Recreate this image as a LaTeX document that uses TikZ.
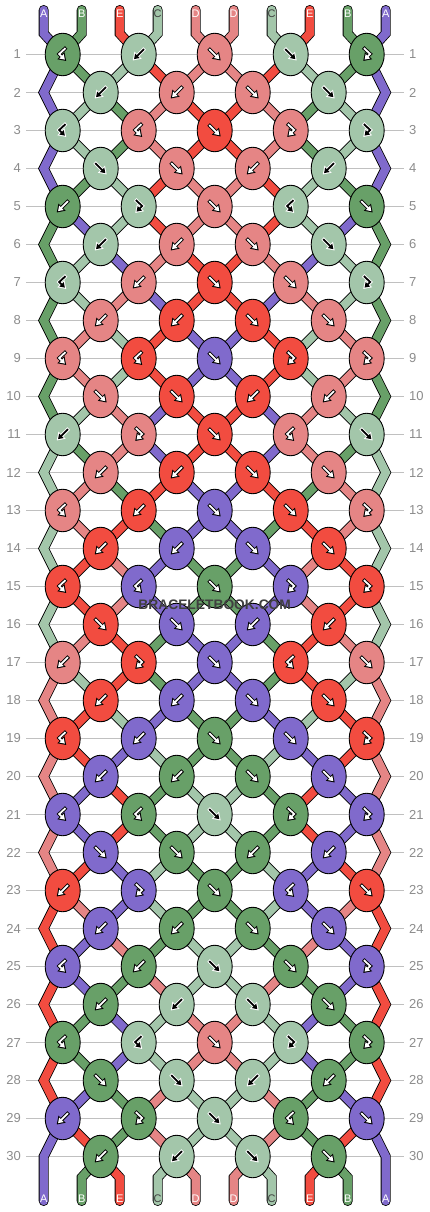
\documentclass[tikz,border=0pt]{standalone}
\usepackage{fontspec}
\setmainfont{Liberation Sans}
\usetikzlibrary{shapes.geometric,arrows.meta}
\definecolor{colA}{RGB}{128,106,204}
\definecolor{colB}{RGB}{104,160,104}
\definecolor{colC}{RGB}{163,198,170}
\definecolor{colD}{RGB}{229,133,133}
\definecolor{colE}{RGB}{242,76,64}
\definecolor{gridgray}{RGB}{192,192,192}
\definecolor{numgray}{RGB}{140,140,140}
\definecolor{wmgray}{RGB}{64,64,64}
\colorlet{arroutA}{black}\colorlet{arrinA}{white}
\colorlet{arroutB}{black}\colorlet{arrinB}{white}
\colorlet{arroutC}{white}\colorlet{arrinC}{black}
\colorlet{arroutD}{black}\colorlet{arrinD}{white}
\colorlet{arroutE}{black}\colorlet{arrinE}{white}
\colorlet{lblA}{white}\colorlet{lblB}{white}\colorlet{lblC}{black!75}
\colorlet{lblD}{white}\colorlet{lblE}{white}
\pgfdeclarelayer{grid}
\pgfdeclarelayer{strings}
\pgfsetlayers{grid,strings,main}
\tikzset{
  knot/.style={ellipse, draw=black, line width=0.9pt, minimum width=35pt, minimum height=42.5pt, inner sep=0pt},
  thread/.style={draw=black, line width=0.8pt, double distance=8.4pt, line cap=round, line join=miter},
  rowline/.style={draw=gridgray, line width=0.9pt},
  rownum/.style={text=numgray, font=\fontsize{13}{15}\selectfont, inner sep=0pt},
  endlabel/.style={font=\fontsize{11}{13}\selectfont, inner sep=0pt},
  wmark/.style={font=\bfseries\fontsize{13.8}{16}\selectfont, text=wmgray, inner sep=0pt}
}
\def\arrpathF{(-6,-6) -- (6,6)}
\def\arrpathB{(6,-6) -- (-6,6)}
\def\arrpathFB{(-3.5,-7) -- (3.5,-0.5) -- (-3.5,6.5)}
\def\arrpathBF{(3.5,-7) -- (-3.5,-0.5) -- (3.5,6.5)}
\newcommand\knotarrow[3]{%
  \expandafter\let\expandafter\arrpath\csname arrpath#2\endcsname
  \begin{scope}[shift={(#1.center)}]
    \draw[line width=3.6pt, draw=arrout#3, line join=miter, -{Triangle[length=7.5pt,width=9.5pt]}] \arrpath;
    \draw[line width=1.8pt, draw=arrin#3, line join=miter, shorten >=1.9pt, shorten <=0.9pt, -{Triangle[length=4.7pt,width=5.9pt]}] \arrpath;
  \end{scope}}
\def\posrows{{A,B,E,C,D,D,C,E,B,A},{A,B,C,E,D,D,E,C,B,A},{A,C,B,D,E,E,D,B,C,A},{A,C,B,D,E,E,D,B,C,A},{A,B,C,E,D,D,E,C,B,A},{B,A,C,E,D,D,E,C,A,B},{B,C,A,D,E,E,D,A,C,B},{B,C,D,A,E,E,A,D,C,B},{B,D,C,E,A,A,E,C,D,B},{B,D,C,E,A,A,E,C,D,B},{B,C,D,A,E,E,A,D,C,B},{C,B,D,A,E,E,A,D,B,C},{C,D,B,E,A,A,E,B,D,C},{C,D,E,B,A,A,B,E,D,C},{C,E,D,A,B,B,A,D,E,C},{C,E,D,A,B,B,A,D,E,C},{C,D,E,B,A,A,B,E,D,C},{D,C,E,B,A,A,B,E,C,D},{D,E,C,A,B,B,A,C,E,D},{D,E,A,C,B,B,C,A,E,D},{D,A,E,B,C,C,B,E,A,D},{D,A,E,B,C,C,B,E,A,D},{D,E,A,C,B,B,C,A,E,D},{E,D,A,C,B,B,C,A,D,E},{E,A,D,B,C,C,B,D,A,E},{E,A,B,D,C,C,D,B,A,E},{E,B,A,C,D,D,C,A,B,E},{E,B,A,C,D,D,C,A,B,E},{E,A,B,D,C,C,D,B,A,E},{A,E,B,D,C,C,D,B,E,A},{A,B,E,C,D,D,C,E,B,A}}
\def\knotrows{{B/BF,C/B,D/F,C/F,B/FB},{C/B,D/B,D/F,C/F},{C/BF,D/BF,E/F,D/FB,C/FB},{C/F,D/F,D/B,C/B},{B/B,C/FB,D/F,C/BF,B/F},{C/B,D/B,D/F,C/F},{C/BF,D/B,E/F,D/F,C/FB},{D/B,E/B,E/F,D/F},{D/BF,E/BF,A/F,E/FB,D/FB},{D/F,E/F,E/B,D/B},{C/B,D/FB,E/F,D/BF,C/F},{D/B,E/B,E/F,D/F},{D/BF,E/B,A/F,E/F,D/FB},{E/B,A/B,A/F,E/F},{E/BF,A/BF,B/F,A/FB,E/FB},{E/F,A/F,A/B,E/B},{D/B,E/FB,A/F,E/BF,D/F},{E/B,A/B,A/F,E/F},{E/BF,A/B,B/F,A/F,E/FB},{A/B,B/B,B/F,A/F},{A/BF,B/BF,C/F,B/FB,A/FB},{A/F,B/F,B/B,A/B},{E/B,A/FB,B/F,A/BF,E/F},{A/B,B/B,B/F,A/F},{A/BF,B/B,C/F,B/F,A/FB},{B/B,C/B,C/F,B/F},{B/BF,C/BF,D/F,C/FB,B/FB},{B/F,C/F,C/B,B/B},{A/B,B/FB,C/F,B/BF,A/F},{B/B,C/B,C/F,B/F}}
\begin{document}
\begin{tikzpicture}[x=1pt,y=-1pt]
\useasboundingbox (0,0) rectangle (430,1212);
\begin{pgfonlayer}{grid}
  \fill[white] (0,0) rectangle (430,1212);
  \foreach \rw in {1,...,30}{
    \pgfmathsetmacro\yy{54.5+38*(\rw-1)}
    \draw[rowline] (26,\yy) -- (404,\yy);
    \node[rownum, anchor=east] (nl-\rw) at (21,\yy) {\rw};
    \node[rownum, anchor=west] (nr-\rw) at (409,\yy) {\rw};
  }
\end{pgfonlayer}
% knots
\foreach \row [count=\rw] in \knotrows {
  \foreach \kc/\kt [count=\kk from 0] in \row {
    \pgfmathtruncatemacro\cc{(mod(\rw,2)==1) ? (2*\kk) : (2*\kk+1)}
    \pgfmathsetmacro\xx{62.7+38*\cc}
    \pgfmathsetmacro\yy{54.5+38*(\rw-1)}
    \node[knot, fill=col\kc] (k-\rw-\cc) at (\xx,\yy) {};
    \knotarrow{k-\rw-\cc}{\kt}{\kc}
  }
}
% string anchor points
\foreach \pp in {0,...,9}{
  \pgfmathsetmacro\xt{43.7+38*\pp}
  \coordinate (T-\pp) at (\xt,10);
  \coordinate (P-0-\pp) at (\xt,33.5);
  \coordinate (P-31-\pp) at (\xt,1177.5);
  \coordinate (Bt-\pp) at (\xt,1201);
  \foreach \rw in {1,...,30}{
    \pgfmathsetmacro\yy{54.5+38*(\rw-1)}
    \ifodd\rw\relax
      \pgfmathtruncatemacro\cc{2*floor(\pp/2)}
      \coordinate (P-\rw-\pp) at (k-\rw-\cc.center);
    \else
      \ifnum\pp=0\relax
        \coordinate (P-\rw-\pp) at (43.7,\yy);
      \else
        \ifnum\pp=9\relax
          \coordinate (P-\rw-\pp) at (385.7,\yy);
        \else
          \pgfmathtruncatemacro\cc{\pp-1+mod(\pp,2)}
          \coordinate (P-\rw-\pp) at (k-\rw-\cc.center);
        \fi
      \fi
    \fi
  }
}
% strings
\begin{pgfonlayer}{strings}
\foreach \row [count=\rw from 0] in \posrows {
  \foreach \sc [count=\pp from 0] in \row {
    \pgfmathtruncatemacro\rn{\rw+1}
    \pgfmathtruncatemacro\rnn{\rw+2}
    \def\edge{0}\ifnum\pp=0\relax\def\edge{1}\fi\ifnum\pp=9\relax\def\edge{1}\fi
    \ifnum\rw=0\relax
      \draw[thread, double=col\sc] (T-\pp) -- (P-0-\pp) -- (P-1-\pp);
    \else
      \ifnum\edge=1\relax
        \ifodd\rw\relax
          \ifnum\rw=29\relax
            \draw[thread, double=col\sc] (P-29-\pp) -- (P-30-\pp) -- (P-31-\pp) -- (Bt-\pp);
          \else
            \draw[thread, double=col\sc] (P-\rw-\pp) -- (P-\rn-\pp) -- (P-\rnn-\pp);
          \fi
        \fi
      \else
        \ifnum\rw=30\relax
          \draw[thread, double=col\sc] (P-30-\pp) -- (P-31-\pp) -- (Bt-\pp);
        \else
          \draw[thread, double=col\sc] (P-\rw-\pp) -- (P-\rn-\pp);
        \fi
      \fi
    \fi
  }
}
\end{pgfonlayer}
% end labels
\foreach \lbl [count=\pp from 0] in {A,B,E,C,D,D,C,E,B,A}{
  \pgfmathsetmacro\xt{43.7+38*\pp}
  \node[endlabel, text=lbl\lbl] (top-\pp) at (\xt,13.5) {\lbl};
  \node[endlabel, text=lbl\lbl] (bot-\pp) at (\xt,1199) {\lbl};
}
\node[wmark] (wm) at (214.7,605) {BRACELETBOOK.COM};
\end{tikzpicture}
\end{document}
